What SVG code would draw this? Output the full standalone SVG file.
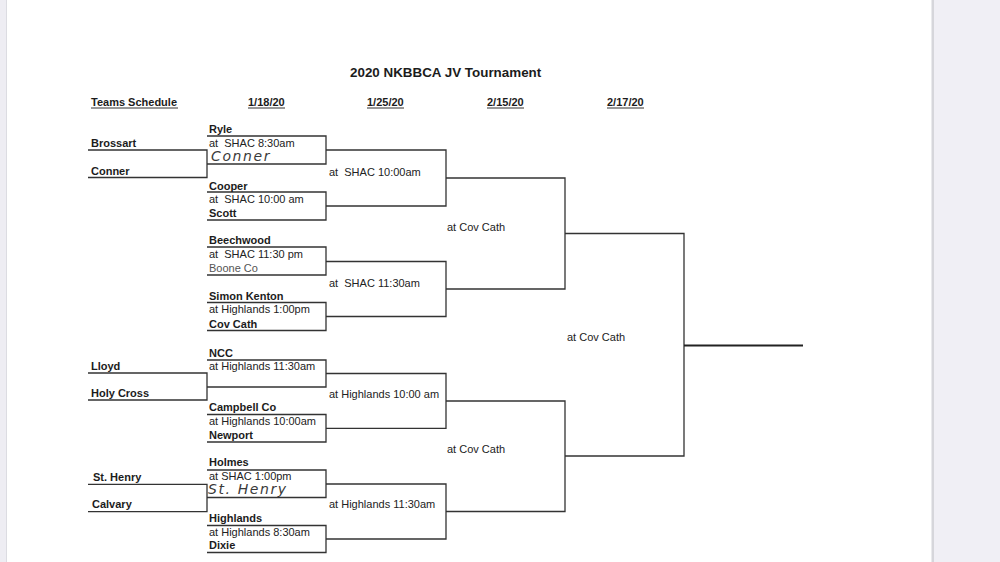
<svg xmlns="http://www.w3.org/2000/svg" width="1000" height="562" viewBox="0 0 1000 562">
<style>
.b{font-family:"Liberation Sans",Arial,sans-serif;font-size:11px;font-weight:bold;fill:#1c1c1c}
.r{font-family:"Liberation Sans",Arial,sans-serif;font-size:11px;fill:#222}
.g{font-family:"Liberation Sans",Arial,sans-serif;font-size:11px;fill:#555}
.t{font-family:"Liberation Sans",Arial,sans-serif;font-size:13.4px;font-weight:bold;fill:#1c1c1c}
.h{font-family:"DejaVu Sans",sans-serif;font-size:14px;font-style:italic;fill:#3a3a3a;letter-spacing:1.6px}
.ln{fill:none;stroke:#333;stroke-width:1.3}
.ul{stroke:#333;stroke-width:1}
</style>
<rect x="0" y="0" width="1000" height="562" fill="#ffffff"/>
<rect x="0" y="0" width="6" height="562" fill="#eeedf3"/>
<rect x="6" y="0" width="1" height="562" fill="#dcdce2"/>
<rect x="933" y="0" width="67" height="562" fill="#f0eff5"/>
<rect x="931.5" y="0" width="2.5" height="562" fill="#d6d6db"/>

<g id="header">
<text class="t" x="350" y="77">2020 NKBBCA JV Tournament</text>
<text class="b" x="91" y="105.5">Teams Schedule</text>
<line class="ul" x1="91" y1="108" x2="178" y2="108"/>
<text class="b" x="248" y="105.5">1/18/20</text>
<line class="ul" x1="248" y1="108" x2="285" y2="108"/>
<text class="b" x="367" y="105.5">1/25/20</text>
<line class="ul" x1="367" y1="108" x2="404" y2="108"/>
<text class="b" x="487" y="105.5">2/15/20</text>
<line class="ul" x1="487" y1="108" x2="524" y2="108"/>
<text class="b" x="607" y="105.5">2/17/20</text>
<line class="ul" x1="607" y1="108" x2="644" y2="108"/>
</g>

<g id="connectors">
<path class="ln" d="M88 150 H207 V177.5 H88"/>
<path class="ln" d="M88 373 H207 V400 H88"/>
<path class="ln" d="M88 484.3 H207 V511.7 H88"/>
<path class="ln" d="M326 150 H446 V206 H326"/>
<path class="ln" d="M326 261.5 H446 V316.5 H326"/>
<path class="ln" d="M326 373.5 H446 V428.3 H326"/>
<path class="ln" d="M326 484 H446 V539 H326"/>
<path class="ln" d="M446 178 H565 V289 H446"/>
<path class="ln" d="M446 401 H565 V511.5 H446"/>
<path class="ln" d="M565 233.5 H684 V456 H565"/>
<line x1="684" y1="345.5" x2="803" y2="345.5" stroke="#222" stroke-width="2.2"/>
</g>

<g id="team-brossart"><text class="b" x="91" y="147">Brossart</text></g>
<g id="team-conner"><text class="b" x="91" y="174.5">Conner</text></g>
<g id="team-lloyd"><text class="b" x="91" y="369.5">Lloyd</text></g>
<g id="team-holycross"><text class="b" x="91" y="397">Holy Cross</text></g>
<g id="team-sthenry"><text class="b" x="93" y="480.5">St. Henry</text></g>
<g id="team-calvary"><text class="b" x="92" y="508">Calvary</text></g>

<g id="game1">
<path class="ln" d="M207 136 H326 V164 H207"/>
<text class="b" x="209" y="133">Ryle</text>
<text class="r" x="209" y="147" xml:space="preserve">at  SHAC 8:30am</text>
<text class="h" x="211" y="161">Conner</text>
</g>
<g id="game2">
<path class="ln" d="M207 192 H326 V220 H207"/>
<text class="b" x="209" y="189.5">Cooper</text>
<text class="r" x="209" y="203" xml:space="preserve">at  SHAC 10:00 am</text>
<text class="b" x="209" y="217">Scott</text>
</g>
<g id="game3">
<path class="ln" d="M207 247 H326 V275 H207"/>
<text class="b" x="209" y="244">Beechwood</text>
<text class="r" x="209" y="258" xml:space="preserve">at  SHAC 11:30 pm</text>
<text class="g" x="209" y="272">Boone Co</text>
</g>
<g id="game4">
<path class="ln" d="M207 302.5 H326 V330.5 H207"/>
<text class="b" x="209" y="299.5">Simon Kenton</text>
<text class="r" x="209" y="313">at Highlands 1:00pm</text>
<text class="b" x="209" y="327.5">Cov Cath</text>
</g>
<g id="game5">
<path class="ln" d="M207 360 H326 V387 H207"/>
<text class="b" x="209" y="356.5">NCC</text>
<text class="r" x="209" y="370">at Highlands 11:30am</text>
</g>
<g id="game6">
<path class="ln" d="M207 414.5 H326 V442 H207"/>
<text class="b" x="209" y="411">Campbell Co</text>
<text class="r" x="209" y="424.5">at Highlands 10:00am</text>
<text class="b" x="209" y="438.5">Newport</text>
</g>
<g id="game7">
<path class="ln" d="M207 470 H326 V497.5 H207"/>
<text class="b" x="209" y="466">Holmes</text>
<text class="r" x="209" y="480">at SHAC 1:00pm</text>
<text class="h" x="208" y="494">St. Henry</text>
</g>
<g id="game8">
<path class="ln" d="M207 525.5 H326 V552.5 H207"/>
<text class="b" x="209" y="522">Highlands</text>
<text class="r" x="209" y="535.5">at Highlands 8:30am</text>
<text class="b" x="209" y="549">Dixie</text>
</g>

<g id="round2-a"><text class="r" x="329" y="175.5" xml:space="preserve">at  SHAC 10:00am</text></g>
<g id="round2-b"><text class="r" x="329" y="286.5" xml:space="preserve">at  SHAC 11:30am</text></g>
<g id="round2-c"><text class="r" x="329" y="397.5">at Highlands 10:00 am</text></g>
<g id="round2-d"><text class="r" x="329" y="508">at Highlands 11:30am</text></g>
<g id="round3-a"><text class="r" x="447" y="231">at Cov Cath</text></g>
<g id="round3-b"><text class="r" x="447" y="453">at Cov Cath</text></g>
<g id="final"><text class="r" x="567" y="341">at Cov Cath</text></g>
</svg>
